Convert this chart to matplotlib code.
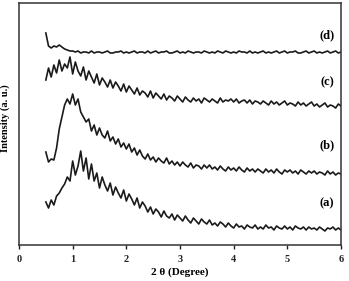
import numpy as np
import matplotlib.pyplot as plt

plt.rcParams['font.family'] = ['Liberation Serif', 'DejaVu Serif']
plt.rcParams['font.weight'] = 'bold'

# 2 theta grid (degree), step 0.05 from 0.5 to 6.0
two_theta = np.round(np.arange(0.5, 6.0001, 0.05), 2)

# intensities (arbitrary units, already stacked)
curve_a = [43, 37, 45, 40, 49, 52, 57, 61, 68, 64,
           84, 70, 79, 94, 74, 87, 66, 81, 64, 72,
           57, 68, 60, 54, 62, 50, 58, 52, 47, 55,
           44, 51, 46, 40, 47, 37, 43, 39, 33, 38,
           31, 36, 33, 28, 34, 29, 27, 31, 25, 30,
           27, 24, 29, 25, 22, 27, 24, 21, 26, 23,
           21, 25, 20, 22, 19, 23, 21, 18, 22, 19,
           17, 21, 18, 19, 16, 20, 18, 17, 20, 16,
           18, 16, 20, 17, 18, 15, 19, 17, 16, 19,
           16, 18, 15, 19, 17, 16, 18, 15, 18, 16,
           17, 15, 18, 16, 14, 17, 16, 18, 15, 17,
           15]
curve_b = [93, 83, 86, 85, 97, 116, 128, 140, 146, 141,
           151, 140, 146, 133, 128, 123, 126, 114, 120, 110,
           117, 110, 107, 114, 104, 108, 101, 106, 98, 102,
           96, 101, 93, 97, 90, 95, 89, 86, 91, 85,
           88, 83, 87, 84, 82, 87, 81, 84, 80, 83,
           79, 83, 80, 78, 82, 77, 80, 79, 76, 80,
           77, 80, 76, 78, 75, 79, 76, 74, 78, 75,
           77, 74, 78, 75, 73, 77, 74, 76, 73, 76,
           74, 72, 76, 73, 75, 72, 76, 73, 71, 75,
           73, 75, 72, 74, 71, 75, 73, 71, 74, 72,
           74, 71, 73, 72, 70, 74, 71, 73, 70, 72,
           71]
curve_c = [165, 177, 168, 180, 172, 185, 174, 181, 177, 188,
           171, 183, 174, 169, 178, 165, 174, 168, 162, 171,
           160, 167, 163, 158, 165, 157, 163, 159, 154, 161,
           153, 159, 155, 151, 157, 150, 154, 152, 148, 154,
           147, 152, 149, 146, 151, 145, 149, 147, 144, 149,
           146, 143, 148, 145, 143, 147, 144, 146, 142, 147,
           145, 143, 146, 144, 142, 147, 143, 145, 144, 146,
           143, 146, 142, 144, 145, 142, 145, 141, 144, 143,
           141, 144, 142, 140, 144, 141, 143, 140, 142, 144,
           140, 142, 141, 139, 143, 140, 142, 139, 141, 143,
           139, 141, 138, 140, 142, 138, 140, 139, 137, 141,
           139]
curve_d = [212, 199, 197, 199, 198, 200, 198, 196, 195, 194,
           194, 193, 194, 192, 193, 193, 192, 194, 192, 193,
           193, 192, 193, 194, 192, 192, 193, 193, 194, 192,
           193, 192, 193, 194, 192, 193, 193, 192, 194, 192,
           193, 194, 192, 193, 193, 194, 192, 192, 193, 194,
           192, 193, 192, 194, 193, 192, 193, 193, 192, 194,
           193, 192, 193, 192, 194, 193, 192, 194, 193, 192,
           193, 192, 194, 193, 193, 192, 194, 192, 193, 192,
           193, 194, 192, 193, 192, 193, 194, 192, 193, 194,
           192, 193, 193, 194, 192, 192, 193, 194, 192, 193,
           194, 192, 193, 192, 193, 194, 192, 193, 194, 192,
           193]

labels = ['(a)', '(b)', '(c)', '(d)']
label_y = [42, 100, 163, 210]

fig = plt.figure(figsize=(3.49, 2.81), dpi=100)
ax = fig.add_axes([19/349, 36/281, 322/349, 242/281])

for cur in [curve_a, curve_b, curve_c, curve_d]:
    ax.plot(two_theta, cur, color='#1a1a1a', lw=1.2)

for lab, ly in zip(labels, label_y):
    ax.text(5.74, ly, lab, fontsize=9, fontweight='bold', ha='center', va='center')

ax.set_xlim(0, 6)
ax.set_ylim(0, 242)
ax.set_xticks(range(0, 7))
ax.set_yticks([])
ax.tick_params(axis='x', direction='out', length=3, width=1, labelsize=7.5, pad=4, colors='#222222')
for s in ax.spines.values():
    s.set_linewidth(1.1)
    s.set_color('#333333')

ax.set_xlabel('2 θ (Degree)', fontsize=8, fontweight='bold', labelpad=3)
fig.text(0.016, 1 - 118/281, 'Intensity (a. u.)', rotation=90, fontsize=7.5, fontweight='bold',
         ha='center', va='center')

fig.savefig('out.png', dpi=100)
